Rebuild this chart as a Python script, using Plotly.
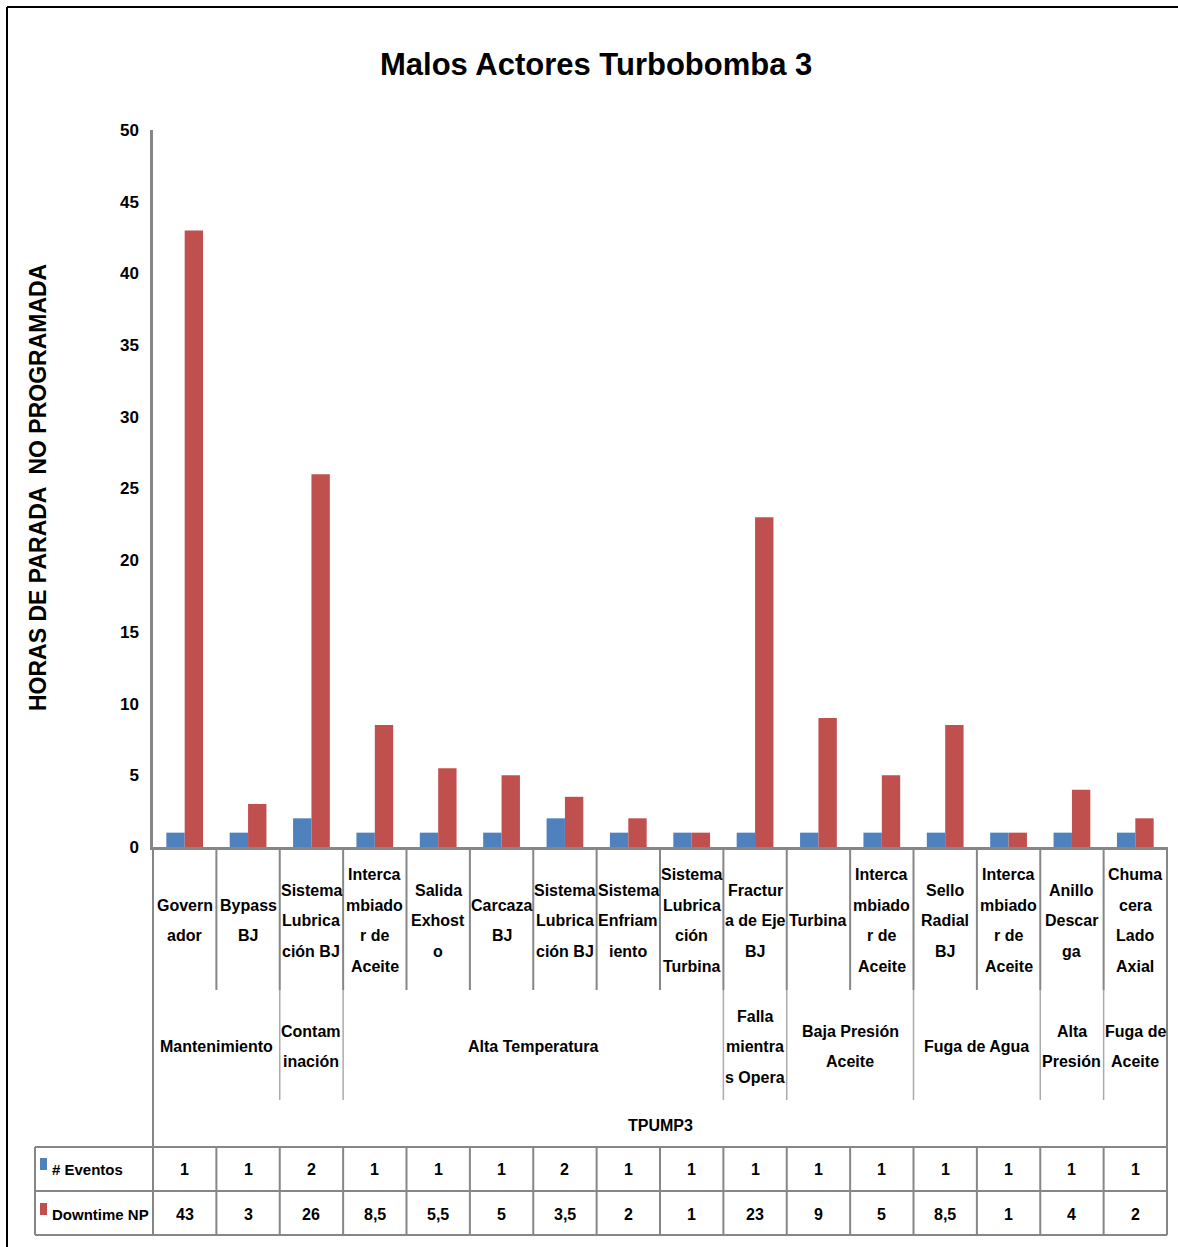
import plotly.graph_objects as go

# ---- data -------------------------------------------------------------
eventos = [1, 1, 2, 1, 1, 1, 2, 1, 1, 1, 1, 1, 1, 1, 1, 1]
downtime = [43, 3, 26, 8.5, 5.5, 5, 3.5, 2, 1, 23, 9, 5, 8.5, 1, 4, 2]

# failure component, split the way the cells wrap it
componentes = [
    ["Govern", "ador"],
    ["Bypass", "BJ"],
    ["Sistema", "Lubrica", "ción BJ"],
    ["Interca", "mbiado", "r de", "Aceite"],
    ["Salida", "Exhost", "o"],
    ["Carcaza", "BJ"],
    ["Sistema", "Lubrica", "ción BJ"],
    ["Sistema", "Enfriam", "iento"],
    ["Sistema", "Lubrica", "ción", "Turbina"],
    ["Fractur", "a de Eje", "BJ"],
    ["Turbina"],
    ["Interca", "mbiado", "r de", "Aceite"],
    ["Sello", "Radial", "BJ"],
    ["Interca", "mbiado", "r de", "Aceite"],
    ["Anillo", "Descar", "ga"],
    ["Chuma", "cera", "Lado", "Axial"],
]

# failure mode groups and how many components each one spans
modos = [
    ["Mantenimiento"],
    ["Contam", "inación"],
    ["Alta Temperatura"],
    ["Falla", "mientra", "s Opera"],
    ["Baja Presión", "Aceite"],
    ["Fuga de Agua"],
    ["Alta", "Presión"],
    ["Fuga de", "Aceite"],
]
modos_n = [2, 1, 6, 1, 2, 2, 1, 1]

equipo = "TPUMP3"
series = ["# Eventos", "Downtime NP"]
colores = ["#4F81BD", "#C0504D"]
titulo = "Malos Actores Turbobomba 3"
eje_y = "HORAS DE PARADA  NO PROGRAMADA"

# ---- geometry ---------------------------------------------------------
W, H = 1178, 1247
L, R, T, B = 153, 11, 130, 400
PW, PH = W - L - R, H - T - B
FONT = "Liberation Sans, Arial, sans-serif"
GRID = "#868686"


def yp(py):
    return (H - B - py) / PH


def xp(px):
    return (px - L) / PW


def bold(size):
    return dict(size=size, color="black", family=FONT, weight="bold")


n = len(eventos)
idx = list(range(n))

fig = go.Figure()
fig.add_bar(x=idx, y=eventos, name=series[0], marker_color=colores[0],
            marker_line_width=0)
fig.add_bar(x=idx, y=downtime, name=series[1], marker_color=colores[1],
            marker_line_width=0)

shapes = []
ann = []


def text(x, xref, py, t, size, **kw):
    d = dict(x=x, xref=xref, y=yp(py), yref="paper", text=t, showarrow=False,
             xanchor="center", yanchor="middle", font=bold(size))
    d.update(kw)
    ann.append(d)


def hline(x0, x1, py, color=GRID, w=2):
    shapes.append(dict(type="line", xref="paper", yref="paper",
                       x0=xp(x0), x1=xp(x1), y0=yp(py), y1=yp(py),
                       line=dict(color=color, width=w)))


def vline_data(x, py0, py1, color=GRID, w=2):
    shapes.append(dict(type="line", xref="x", yref="paper",
                       x0=x, x1=x, y0=yp(py0), y1=yp(py1),
                       line=dict(color=color, width=w)))


def vline_px(px, py0, py1, color=GRID, w=2):
    shapes.append(dict(type="line", xref="paper", yref="paper",
                       x0=xp(px), x1=xp(px), y0=yp(py0), y1=yp(py1),
                       line=dict(color=color, width=w)))


# outer chart frame
shapes.append(dict(type="line", xref="paper", yref="paper",
                   x0=xp(7), x1=xp(7), y0=yp(7), y1=yp(H + 20),
                   line=dict(color="black", width=2)))
shapes.append(dict(type="line", xref="paper", yref="paper",
                   x0=xp(7), x1=xp(W + 20), y0=yp(7), y1=yp(7),
                   line=dict(color="black", width=2)))

# row bands (pixel rows below the plot)
Y_AXIS, Y_L1, Y_L2, Y_TAB, Y_ROW2, Y_END = 847, 990, 1100, 1147, 1191, 1235

# category separators
for i in range(n - 1):
    vline_data(i + 0.5, Y_AXIS, Y_L1)
    vline_data(i + 0.5, Y_TAB, Y_END)

# group separators
acc = 0
for k in modos_n[:-1]:
    acc += k
    vline_data(acc - 0.5, Y_L1, Y_L2, color="#ABABAB", w=1.5)

# outer sides of the category area and the data table
vline_px(L, Y_AXIS, Y_END)
vline_px(W - R, Y_AXIS, Y_END)
vline_px(35, Y_TAB, Y_END)
for py in (Y_TAB, Y_ROW2, Y_END):
    hline(35, W - R, py)

# component labels
LINE = 30.5
for i, lines in enumerate(componentes):
    m = len(lines)
    for k, t in enumerate(lines):
        text(i, "x", 920.5 + (k - (m - 1) / 2) * LINE, t, 16)

# failure mode labels
acc = 0
for lines, k_n in zip(modos, modos_n):
    cx = acc + (k_n - 1) / 2
    acc += k_n
    m = len(lines)
    for k, t in enumerate(lines):
        text(cx, "x", 1046.5 + (k - (m - 1) / 2) * LINE, t, 16)

# equipment label
text(0.5, "paper", 1125, equipo, 16)


def fmt(v):
    return (f"{v:g}").replace(".", ",")


# data table
for row_y, vals, name, col in ((1169, eventos, series[0], colores[0]),
                               (1214, downtime, series[1], colores[1])):
    for i, v in enumerate(vals):
        text(i, "x", row_y, fmt(v), 16)
    text(xp(50), "paper", row_y, name, 15, xanchor="left")
    shapes.append(dict(type="rect", xref="paper", yref="paper",
                       x0=xp(40), x1=xp(47), y0=yp(row_y - 11), y1=yp(row_y + 1),
                       fillcolor=col, line=dict(width=0)))

# title and y-axis title
text(xp(596), "paper", 64, titulo, 31)
text(xp(38), "paper", 488, eje_y, 23, textangle=-90)

fig.update_layout(
    width=W, height=H,
    margin=dict(l=L, r=R, t=T, b=B),
    paper_bgcolor="white", plot_bgcolor="white",
    barmode="group", bargap=0.42, bargroupgap=0,
    showlegend=False,
    shapes=shapes, annotations=ann,
    font=dict(family=FONT, color="black"),
)
fig.update_xaxes(range=[-0.5, n - 0.5], showticklabels=False, ticks="",
                 showgrid=False, zeroline=False, showline=True,
                 linecolor=GRID, linewidth=3)
fig.update_yaxes(range=[0, 50], dtick=5, showgrid=False, zeroline=False,
                 showline=True, linecolor=GRID, linewidth=2.5, ticks="",
                 ticklabelstandoff=8, tickfont=bold(17))

fig.write_html("out.html")
